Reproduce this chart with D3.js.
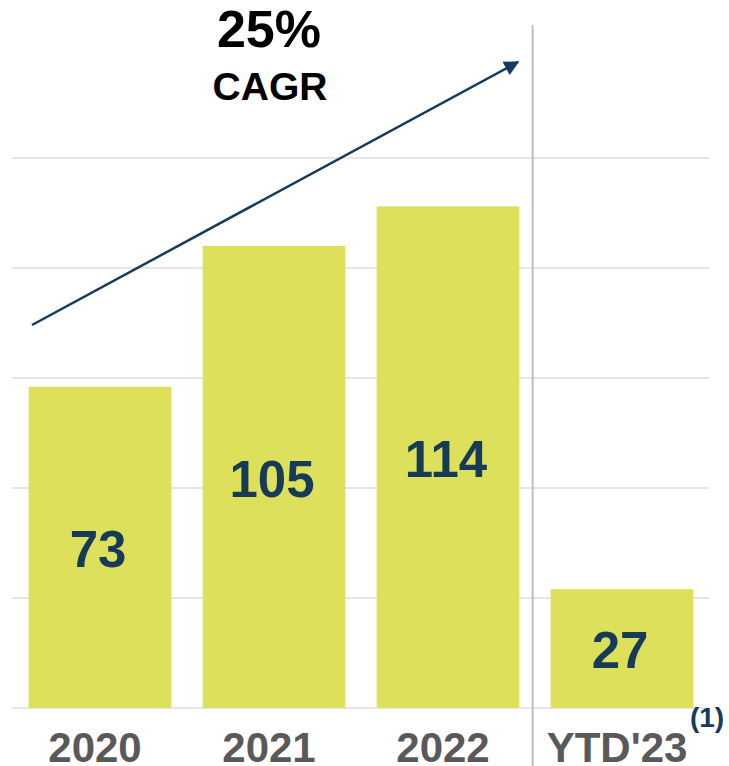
<!DOCTYPE html>
<html>
<head>
<meta charset="utf-8">
<script src="https://cdn.jsdelivr.net/npm/d3@7"></script>
<style>
body { margin: 0; background: #fff; }
text { font-family: "Liberation Sans", Arial, sans-serif; font-weight: bold; }
</style>
</head>
<body>
<script>
var width = 729, height = 766;

// data
var categories = ["2020", "2021", "2022", "YTD'23"];
var values = [73, 105, 114, 27];
var gridTicks = [0, 25, 50, 75, 100, 125];
var cagrLabel = "25%";
var cagrText = "CAGR";
var footnote = "(1)";

var barColor = "#dce05b";
var navy = "#163a58";

var svg = d3.select("body")
.append("svg")
.attr("width", width)
.attr("height", height)
.attr("id","svg");

var x = d3.scaleBand()
.domain(categories)
.range([13, 709])
.paddingInner(0.18)
.paddingOuter(0.09);

var y = d3.scaleLinear()
.domain([0, 125])
.range([708, 158]);

var mainGroup = svg.append("g").attr("id","mainGroup");

// gridlines
mainGroup.selectAll(".grid")
.data(gridTicks)
.enter().append("line")
.attr("class","grid")
.attr("x1", 12)
.attr("x2", 709)
.attr("y1", function(d){ return y(d); })
.attr("y2", function(d){ return y(d); })
.attr("stroke", "#e6e6e6")
.attr("stroke-width", 2);

// bars
mainGroup.selectAll(".bar")
.data(values)
.enter().append("rect")
.attr("class","bar")
.attr("x", function(d, i){ return x(categories[i]); })
.attr("y", function(d){ return y(d); })
.attr("width", x.bandwidth())
.attr("height", function(d){ return y(0) - y(d); })
.attr("fill", barColor);

// value labels, centred inside bars
mainGroup.selectAll(".val")
.data(values)
.enter().append("text")
.attr("class","val")
.attr("x", function(d, i){ return x(categories[i]) + x.bandwidth()/2 - 2; })
.attr("y", function(d){ return (y(d) + y(0))/2 + 2; })
.attr("text-anchor","middle")
.attr("dominant-baseline","central")
.attr("font-size", 51)
.attr("fill", navy)
.text(function(d){ return d; });

// category labels
mainGroup.selectAll(".cat")
.data(categories)
.enter().append("text")
.attr("class","cat")
.attr("x", function(d){ return x(d) + x.bandwidth()/2 - 5; })
.attr("y", 762)
.attr("text-anchor","middle")
.attr("font-size", 42)
.attr("fill", "#595959")
.text(function(d){ return d; });

// footnote marker
mainGroup.append("text")
.attr("x", 707)
.attr("y", 727)
.attr("text-anchor","middle")
.attr("font-size", 28)
.attr("fill", navy)
.text(footnote);

// divider between full years and YTD
var divX = x(categories[3]) - 18;
mainGroup.append("line")
.attr("x1", divX).attr("x2", divX)
.attr("y1", 25).attr("y2", height)
.attr("stroke", "#bfbfbf")
.attr("stroke-width", 2);

// CAGR arrow
svg.append("defs").append("marker")
.attr("id","head")
.attr("viewBox","0 0 10 10")
.attr("refX", 9).attr("refY", 5)
.attr("markerWidth", 7).attr("markerHeight", 6)
.attr("markerUnits","strokeWidth")
.attr("orient","auto")
.append("path")
.attr("d","M0,0 L10,5 L0,10 z")
.attr("fill", navy);

mainGroup.append("line")
.attr("x1", 32).attr("y1", 325)
.attr("x2", 518).attr("y2", 62)
.attr("stroke", navy)
.attr("stroke-width", 2.5)
.attr("marker-end","url(#head)");

mainGroup.append("text")
.attr("x", 269).attr("y", 47)
.attr("text-anchor","middle")
.attr("font-size", 52)
.attr("fill", "#000")
.text(cagrLabel);

mainGroup.append("text")
.attr("x", 270).attr("y", 100)
.attr("text-anchor","middle")
.attr("font-size", 39)
.attr("fill", "#000")
.text(cagrText);
</script>
</body>
</html>
